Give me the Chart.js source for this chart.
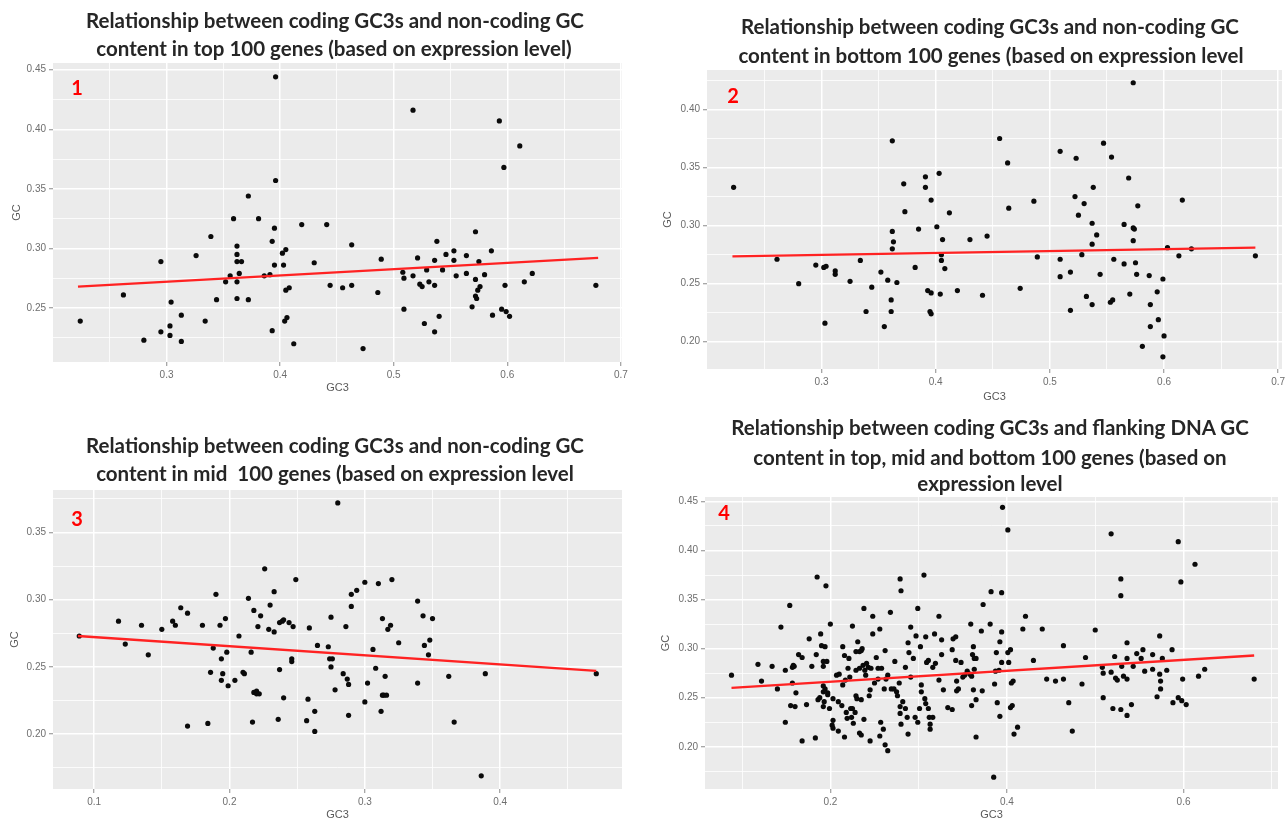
<!DOCTYPE html>
<html><head><meta charset="utf-8">
<script src="https://cdn.jsdelivr.net/npm/chart.js@4.4.1/dist/chart.umd.min.js"></script>
<style>
html,body{margin:0;padding:0;background:#fff;}
body{width:1285px;height:825px;overflow:hidden;position:relative;}
canvas{position:absolute;}
.t{position:absolute;transform:translate(-50%,-50%);white-space:nowrap;font:700 20.5px Lato,sans-serif;color:#262626;line-height:1;}
.n{position:absolute;transform:translate(-50%,-50%);font:700 20px Lato,sans-serif;color:#ff0000;line-height:1;}
</style></head><body>
<canvas id="c1" width="640" height="400" style="left:0;top:0"></canvas>
<canvas id="c2" width="660" height="404" style="left:645px;top:0"></canvas>
<canvas id="c3" width="640" height="420" style="left:0;top:405px"></canvas>
<canvas id="c4" width="660" height="420" style="left:645px;top:405px"></canvas>

<div class="t" style="left:335px;top:20px">Relationship between coding GC3s and non-coding GC</div>
<div class="t" style="left:334px;top:48px">content in top 100 genes (based on expression level)</div>
<div class="t" style="left:990px;top:26px">Relationship between coding GC3s and non-coding GC</div>
<div class="t" style="left:991px;top:55px">content in bottom 100 genes (based on expression level</div>
<div class="t" style="left:335px;top:445px">Relationship between coding GC3s and non-coding GC</div>
<div class="t" style="left:335px;top:473px">content in mid&nbsp; 100 genes (based on expression level</div>
<div class="t" style="left:990px;top:427px">Relationship between coding GC3s and flanking DNA GC</div>
<div class="t" style="left:990px;top:457px">content in top, mid and bottom 100 genes (based on</div>
<div class="t" style="left:990px;top:483px">expression level</div>
<div class="n" style="left:77px;top:87px">1</div>
<div class="n" style="left:733px;top:95px">2</div>
<div class="n" style="left:77px;top:518px">3</div>
<div class="n" style="left:724px;top:512px">4</div>

<script>
// ---------- DATA ----------
// Panel 1: top 100 genes
const topGC3 = [0.224,0.262,0.280,0.295,0.295,0.303,0.303,0.304,0.313,0.313,0.326,0.334,0.339,0.344,0.352,0.356,0.359,0.362,0.362,0.362,0.362,0.362,0.364,0.366,0.372,0.372,0.381,0.386,0.391,0.393,0.393,0.396,0.396,0.395,0.395,0.402,0.405,0.403,0.405,0.408,0.404,0.406,0.412,0.419,0.430,0.441,0.444,0.455,0.463,0.463,0.473,0.486,0.489,0.508,0.509,0.509,0.517,0.517,0.521,0.523,0.525,0.527,0.529,0.531,0.536,0.536,0.536,0.538,0.540,0.543,0.546,0.553,0.553,0.555,0.564,0.564,0.569,0.572,0.572,0.572,0.573,0.574,0.575,0.576,0.580,0.586,0.587,0.593,0.595,0.597,0.598,0.599,0.602,0.611,0.615,0.622,0.678];
const topGC  = [0.239,0.261,0.223,0.289,0.230,0.227,0.235,0.255,0.244,0.222,0.294,0.239,0.310,0.257,0.272,0.277,0.325,0.272,0.302,0.295,0.289,0.258,0.279,0.289,0.344,0.257,0.325,0.277,0.278,0.306,0.231,0.444,0.357,0.317,0.286,0.296,0.299,0.286,0.265,0.267,0.239,0.242,0.220,0.320,0.288,0.320,0.269,0.267,0.303,0.269,0.216,0.263,0.291,0.280,0.275,0.249,0.416,0.277,0.292,0.270,0.268,0.237,0.282,0.272,0.269,0.290,0.230,0.306,0.243,0.282,0.295,0.298,0.290,0.277,0.294,0.279,0.251,0.314,0.274,0.260,0.258,0.265,0.289,0.268,0.278,0.298,0.244,0.407,0.249,0.368,0.269,0.247,0.243,0.386,0.272,0.279,0.269];
// Panel 2: bottom 100 genes
const bottomGC3 = [0.223,0.261,0.280,0.295,0.302,0.304,0.303,0.312,0.312,0.325,0.334,0.339,0.344,0.352,0.355,0.358,0.361,0.361,0.362,0.363,0.362,0.366,0.362,0.372,0.373,0.382,0.385,0.391,0.391,0.393,0.396,0.395,0.396,0.396,0.401,0.403,0.404,0.405,0.405,0.406,0.408,0.412,0.419,0.430,0.441,0.445,0.456,0.463,0.464,0.474,0.486,0.489,0.509,0.509,0.509,0.518,0.518,0.522,0.523,0.525,0.528,0.530,0.532,0.537,0.537,0.537,0.538,0.541,0.544,0.547,0.553,0.555,0.554,0.556,0.565,0.565,0.569,0.570,0.573,0.573,0.574,0.573,0.575,0.576,0.577,0.581,0.587,0.588,0.588,0.594,0.595,0.599,0.600,0.599,0.603,0.613,0.616,0.624,0.680];
const bottomGC  = [0.333,0.271,0.250,0.266,0.264,0.265,0.216,0.261,0.258,0.252,0.270,0.226,0.247,0.260,0.213,0.253,0.236,0.226,0.295,0.286,0.280,0.251,0.373,0.336,0.312,0.264,0.297,0.342,0.333,0.244,0.242,0.226,0.224,0.322,0.299,0.345,0.241,0.275,0.270,0.288,0.263,0.311,0.244,0.288,0.240,0.291,0.375,0.354,0.315,0.246,0.321,0.273,0.364,0.271,0.256,0.260,0.227,0.325,0.358,0.309,0.275,0.319,0.239,0.284,0.302,0.232,0.333,0.292,0.258,0.371,0.234,0.236,0.359,0.271,0.301,0.267,0.341,0.241,0.423,0.298,0.297,0.287,0.268,0.258,0.317,0.196,0.257,0.232,0.213,0.243,0.219,0.254,0.205,0.187,0.281,0.274,0.322,0.280,0.274];
// Panel 3: mid 100 genes
const midGC3 = [0.089,0.118,0.123,0.135,0.140,0.150,0.158,0.160,0.164,0.169,0.169,0.180,0.184,0.186,0.188,0.190,0.193,0.194,0.194,0.195,0.197,0.198,0.199,0.204,0.207,0.210,0.211,0.214,0.216,0.217,0.218,0.218,0.220,0.221,0.220,0.222,0.223,0.226,0.229,0.230,0.233,0.233,0.236,0.237,0.237,0.239,0.240,0.240,0.244,0.246,0.246,0.247,0.249,0.259,0.258,0.257,0.263,0.263,0.265,0.273,0.275,0.275,0.274,0.276,0.278,0.280,0.284,0.286,0.287,0.288,0.288,0.290,0.290,0.294,0.300,0.300,0.302,0.306,0.308,0.310,0.312,0.313,0.313,0.314,0.316,0.315,0.317,0.319,0.320,0.325,0.339,0.339,0.343,0.344,0.347,0.348,0.350,0.362,0.366,0.386,0.389,0.471];
const midGC  = [0.273,0.284,0.267,0.281,0.259,0.278,0.284,0.281,0.294,0.290,0.206,0.281,0.208,0.246,0.264,0.304,0.281,0.256,0.240,0.245,0.286,0.261,0.236,0.240,0.273,0.246,0.245,0.301,0.261,0.209,0.292,0.231,0.232,0.280,0.230,0.230,0.288,0.323,0.278,0.296,0.306,0.276,0.211,0.248,0.283,0.284,0.227,0.285,0.283,0.256,0.254,0.280,0.315,0.279,0.226,0.210,0.217,0.202,0.266,0.265,0.287,0.250,0.256,0.256,0.233,0.372,0.245,0.280,0.241,0.237,0.214,0.304,0.295,0.307,0.313,0.224,0.238,0.263,0.249,0.312,0.217,0.286,0.229,0.229,0.229,0.243,0.278,0.281,0.315,0.268,0.299,0.238,0.288,0.266,0.259,0.270,0.286,0.243,0.209,0.169,0.245,0.245];
// Panel 4: top, mid and bottom 100 genes (flanking DNA)
const allGC3 = [0.088,0.122,0.118,0.134,0.140,0.144,0.149,0.149,0.154,0.155,0.157,0.157,0.158,0.160,0.161,0.159,0.164,0.168,0.168,0.173,0.176,0.179,0.183,0.184,0.185,0.186,0.188,0.189,0.190,0.192,0.192,0.192,0.192,0.193,0.195,0.194,0.194,0.192,
0.196,0.197,0.197,0.199,0.200,0.203,0.203,0.202,0.203,0.209,0.209,0.207,0.210,0.213,0.214,0.214,0.216,0.216,0.217,0.218,0.219,0.220,0.221,0.222,0.223,0.224,0.225,0.225,0.226,0.228,0.229,0.229,0.229,0.230,0.231,0.233,0.233,0.235,0.235,0.233,0.235,0.236,0.237,0.238,0.238,0.239,0.240,0.241,0.243,0.244,0.245,0.245,0.246,0.248,0.248,0.250,0.252,0.254,0.254,0.256,0.257,0.256,0.258,0.261,0.260,0.262,0.262,0.263,0.265,0.265,0.268,0.269,0.273,0.272,0.275,0.276,0.278,0.279,0.279,0.279,0.280,0.280,0.282,0.285,0.285,0.287,0.288,0.288,0.289,0.291,0.291,0.294,0.296,0.297,0.299,0.299,0.301,0.302,0.303,0.303,0.307,0.308,0.306,0.308,0.309,0.311,0.311,0.312,0.313,0.313,0.316,0.316,0.318,0.319,0.323,0.323,0.326,0.326,0.328,
0.333,0.338,0.338,0.339,0.342,0.342,0.343,0.343,0.345,0.348,0.350,0.352,0.355,0.358,0.359,0.360,0.360,0.361,0.362,0.362,0.363,0.363,0.365,0.365,0.365,0.371,0.372,0.373,0.381,0.382,0.385,0.386,0.387,0.388,0.389,0.391,0.392,0.392,0.394,0.394,0.394,0.395,0.401,0.401,0.402,0.404,0.404,0.405,0.406,0.407,0.408,0.412,0.418,0.421,0.430,0.440,0.445,0.455,0.464,0.464,
0.470,0.474,0.485,0.489,0.500,0.508,0.509,0.509,0.518,0.518,0.520,0.522,0.523,0.525,0.529,0.529,0.529,0.530,0.532,0.536,0.536,0.536,0.536,0.541,0.543,0.547,0.552,0.554,0.556,0.565,0.565,0.570,0.573,0.573,0.574,0.574,0.576,0.581,0.587,0.588,0.594,0.594,0.597,0.598,0.599,0.603,0.613,0.617,0.624,0.680];
const allGC = [0.273,0.267,0.284,0.282,0.259,0.322,0.225,0.278,0.344,0.242,0.281,0.265,0.283,0.241,0.255,0.282,0.294,0.291,0.206,0.243,0.310,0.282,0.209,0.294,0.373,0.248,0.250,0.315,0.303,0.282,0.262,0.256,0.241,0.246,0.364,0.302,0.259,0.287,
0.287,0.255,0.253,0.239,0.325,0.249,0.227,0.222,0.219,0.216,0.246,0.273,0.274,0.242,0.302,0.263,0.293,0.210,0.268,0.235,0.229,0.280,0.290,0.271,0.239,0.230,0.323,0.239,0.224,0.235,0.297,0.278,0.252,0.249,0.307,0.280,0.297,0.298,0.248,0.214,0.212,0.300,0.283,0.341,0.228,0.278,0.273,0.285,0.281,0.252,0.258,0.206,0.280,0.315,0.333,0.265,0.291,0.269,0.280,0.320,0.225,0.211,0.280,0.259,0.218,0.298,0.202,0.269,0.196,0.273,0.337,0.259,0.287,0.259,0.256,0.252,0.265,0.241,0.234,0.371,0.359,0.223,0.246,0.281,0.239,0.230,0.213,0.306,0.296,0.271,0.322,0.290,0.230,0.313,0.341,0.225,0.239,0.302,0.263,0.256,0.249,0.312,0.375,0.244,0.286,0.288,0.239,0.230,0.223,0.218,0.230,0.281,0.315,0.285,0.333,0.268,0.309,0.294,0.258,
0.240,0.238,0.299,0.310,0.312,0.288,0.257,0.267,0.259,0.286,0.271,0.273,0.277,0.274,0.325,0.272,0.242,0.294,0.302,0.258,0.279,0.290,0.248,0.290,0.210,0.318,0.257,0.345,0.325,0.358,0.169,0.264,0.277,0.296,0.245,0.278,0.307,0.231,0.317,0.357,0.286,0.444,0.421,0.296,0.286,0.299,0.240,0.265,0.242,0.267,0.213,0.220,0.320,0.333,0.288,0.320,0.269,0.267,0.303,0.269,
0.245,0.216,0.264,0.291,0.319,0.281,0.275,0.250,0.417,0.276,0.239,0.292,0.270,0.268,0.238,0.354,0.371,0.282,0.272,0.306,0.290,0.269,0.232,0.243,0.282,0.295,0.290,0.299,0.277,0.294,0.279,0.251,0.313,0.274,0.267,0.259,0.290,0.278,0.299,0.245,0.409,0.250,0.368,0.247,0.269,0.243,0.386,0.272,0.279,0.269];

// fitted (red) regression lines: endpoints
const topFitGC3 = [0.222, 0.680], topFitGC = [0.268, 0.292];
const bottomFitGC3 = [0.222, 0.680], bottomFitGC = [0.2735, 0.281];
const midFitGC3 = [0.088, 0.471], midFitGC = [0.273, 0.247];
const allFitGC3 = [0.088, 0.680], allFitGC = [0.260, 0.293];

// tick labels (major) and minor grid positions
const p1XLabels = ['0.3','0.4','0.5','0.6','0.7'], p1XMinor = [0.25,0.35,0.45,0.55,0.65];
const p1YLabels = ['0.25','0.30','0.35','0.40','0.45'], p1YMinor = [0.225,0.275,0.325,0.375,0.425];
const p2XLabels = ['0.3','0.4','0.5','0.6','0.7'], p2XMinor = [0.25,0.35,0.45,0.55,0.65];
const p2YLabels = ['0.20','0.25','0.30','0.35','0.40'], p2YMinor = [0.225,0.275,0.325,0.375,0.425];
const p3XLabels = ['0.1','0.2','0.3','0.4'], p3XMinor = [0.15,0.25,0.35,0.45];
const p3YLabels = ['0.20','0.25','0.30','0.35'], p3YMinor = [0.175,0.225,0.275,0.325,0.375];
const p4XLabels = ['0.2','0.4','0.6'], p4XMinor = [0.1,0.3,0.5,0.7];
const p4YLabels = ['0.20','0.25','0.30','0.35','0.40','0.45'], p4YMinor = [0.175,0.225,0.275,0.325,0.375,0.425];

// ---------- DRAWING ----------
const panelBg = {
  id: 'panelBg',
  beforeDraw(chart) {
    const a = chart.chartArea, ctx = chart.ctx;
    ctx.save(); ctx.fillStyle = '#EBEBEB';
    ctx.fillRect(a.left, a.top, a.right - a.left, a.bottom - a.top);
    ctx.restore();
  }
};

function axis(labels, minor, min, max, prop, size, title, titlePad) {
  const maj = labels.map(Number);
  const isMaj = v => maj.some(m => Math.abs(m - v) < 1e-9);
  return {
    type: 'linear', min: min, max: max,
    afterBuildTicks: s => { s.ticks = maj.concat(minor).sort((a, b) => a - b).map(v => ({value: v})); },
    afterFit: s => { s[prop] = size; },
    ticks: {
      autoSkip: false, maxRotation: 0, minRotation: 0, padding: 3, color: '#6e6e6e',
      font: {family: '"Liberation Sans", Arial, sans-serif', size: 10},
      callback: v => { const i = maj.findIndex(m => Math.abs(m - v) < 1e-9); return i >= 0 ? labels[i] : ''; }
    },
    grid: {
      color: '#ffffff',
      lineWidth: c => (c.tick && isMaj(c.tick.value)) ? 1.5 : 0.8,
      drawTicks: true, tickLength: 4, tickWidth: 1,
      tickColor: c => (c.tick && isMaj(c.tick.value)) ? '#8a8a8a' : 'rgba(0,0,0,0)'
    },
    border: {display: false},
    title: {display: true, text: title, color: '#5a5a5a',
            font: {family: '"Liberation Sans", Arial, sans-serif', size: 11}, padding: titlePad}
  };
}

function panel(id, gc3, gc, fitX, fitY, xs, ys, pad) {
  new Chart(document.getElementById(id), {
    data: {
      datasets: [
        {type: 'line', data: fitX.map((x, i) => ({x: x, y: fitY[i]})), borderColor: '#ff2222',
         borderWidth: 2.3, pointRadius: 0, fill: false, order: 0},
        {type: 'scatter', data: gc3.map((x, i) => ({x: x, y: gc[i]})), backgroundColor: '#0a0a0a',
         borderWidth: 0, pointRadius: 2.6, order: 1}
      ]
    },
    options: {
      responsive: false, animation: false, devicePixelRatio: 1,
      layout: {padding: pad},
      plugins: {legend: {display: false}, tooltip: {enabled: false}, title: {display: false}},
      scales: {x: xs, y: ys}
    },
    plugins: [panelBg]
  });
}

panel('c1', topGC3, topGC, topFitGC3, topFitGC,
  axis(p1XLabels, p1XMinor, 0.2, 0.701, 'height', 33, 'GC3', {top: 0, bottom: 0}),
  axis(p1YLabels, p1YMinor, 0.2047, 0.4556, 'width', 50, 'GC', {top: 7, bottom: 0}),
  {left: 3, top: 63, right: 18, bottom: 5});
panel('c2', bottomGC3, bottomGC, bottomFitGC3, bottomFitGC,
  axis(p2XLabels, p2XMinor, 0.1997, 0.7033, 'height', 35, 'GC3', {top: 0, bottom: 0}),
  axis(p2YLabels, p2YMinor, 0.1765, 0.4340, 'width', 50, 'GC', {top: 4, bottom: 0}),
  {left: 12, top: 70, right: 23, bottom: 0});
panel('c3', midGC3, midGC, midFitGC3, midFitGC,
  axis(p3XLabels, p3XMinor, 0.0696, 0.4900, 'height', 33, 'GC3', {top: 0, bottom: 0}),
  axis(p3YLabels, p3YMinor, 0.1592, 0.3816, 'width', 50, 'GC', {top: 5, bottom: 0}),
  {left: 3, top: 85, right: 18, bottom: 3});
panel('c4', allGC3, allGC, allFitGC3, allFitGC,
  axis(p4XLabels, p4XMinor, 0.058, 0.707, 'height', 33, 'GC3', {top: 0, bottom: 0}),
  axis(p4YLabels, p4YMinor, 0.157, 0.4545, 'width', 50, 'GC', {top: 4, bottom: 0}),
  {left: 10, top: 92, right: 27, bottom: 3});
</script>
</body></html>
